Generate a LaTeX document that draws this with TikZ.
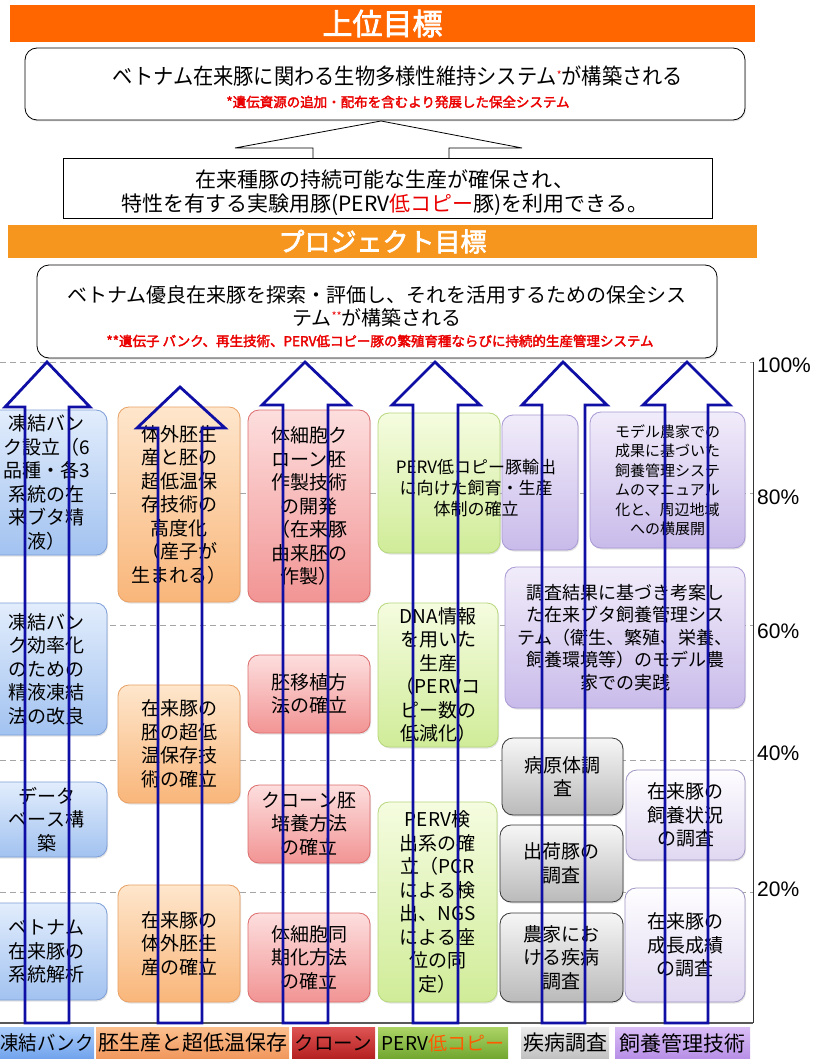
\documentclass[tikz,border=0pt]{standalone}
\usepackage{fontspec}
\newfontfamily\jp{Noto Sans CJK JP}
\newfontfamily\jpb[FakeBold=2.5]{Noto Sans CJK JP}
\newfontfamily\jpc[FakeStretch=0.92]{Noto Sans CJK JP}
\newfontfamily\pctfont{Liberation Sans}
\usetikzlibrary{shadows}

\definecolor{barA}{RGB}{255,102,0}
\definecolor{barB}{RGB}{247,150,30}
\definecolor{redtxt}{RGB}{235,0,0}
\definecolor{arrowblue}{RGB}{15,15,165}
\definecolor{gridc}{RGB}{165,165,165}
\definecolor{blueT}{RGB}{226,237,252}
\definecolor{blueD}{RGB}{162,194,240}
\definecolor{blueB}{RGB}{125,158,215}
\definecolor{oraT}{RGB}{254,230,204}
\definecolor{oraD}{RGB}{249,182,122}
\definecolor{oraB}{RGB}{232,160,100}
\definecolor{redT}{RGB}{253,222,222}
\definecolor{redD}{RGB}{242,148,148}
\definecolor{redB}{RGB}{220,108,108}
\definecolor{grnT}{RGB}{245,252,224}
\definecolor{grnD}{RGB}{208,236,152}
\definecolor{grnB}{RGB}{182,215,124}
\definecolor{gryT}{RGB}{246,246,246}
\definecolor{gryD}{RGB}{186,186,186}
\definecolor{gryB}{RGB}{55,55,55}
\definecolor{purT}{RGB}{241,236,250}
\definecolor{purD}{RGB}{201,187,234}
\definecolor{purB}{RGB}{168,152,212}
\definecolor{lavT}{RGB}{254,253,255}
\definecolor{lavD}{RGB}{224,216,241}
\definecolor{lavB}{RGB}{160,150,195}
\definecolor{lgBlueT}{RGB}{172,206,250}
\definecolor{lgBlueD}{RGB}{112,162,236}
\definecolor{lgOraT}{RGB}{252,192,142}
\definecolor{lgOraD}{RGB}{240,150,92}
\definecolor{lgRedT}{RGB}{222,84,84}
\definecolor{lgRedD}{RGB}{180,32,32}
\definecolor{lgGrnT}{RGB}{172,212,102}
\definecolor{lgGrnD}{RGB}{112,166,46}
\definecolor{lgGryT}{RGB}{236,236,236}
\definecolor{lgGryD}{RGB}{192,192,192}
\definecolor{lgPurT}{RGB}{218,190,246}
\definecolor{lgPurD}{RGB}{182,142,230}
\definecolor{lgOrangeTxt}{RGB}{255,90,0}

\newcommand{\mkbox}[7]{\node[#2, minimum width={(#5)-(#3)}, minimum height={(#6)-(#4)}] (#1) at ({((#3)+(#5))/2},{((#4)+(#6))/2}) {#7};}
\newcommand{\uparr}[7]{\draw[barrow] (#1,1023) -- (#1,#7) -- (#3,#7) -- (#5,#6) -- (#4,#7) -- (#2,#7) -- (#2,1023) -- cycle;}

\begin{document}
\begin{tikzpicture}[x=1pt,y=-1pt,
  cbox/.style={draw, rounded corners=11pt, inner sep=0pt, outer sep=0pt, align=center, line width=0.8pt,
    font={\jp\fontsize{19}{23.5}\selectfont},
    drop shadow={opacity=0.22,shadow xshift=1pt,shadow yshift=-1.5pt}},
  bbox/.style={cbox, draw=blueB, top color=blueT, bottom color=blueD},
  obox/.style={cbox, draw=oraB, top color=oraT, bottom color=oraD},
  rbox/.style={cbox, draw=redB, top color=redT, bottom color=redD},
  gbox/.style={cbox, draw=grnB, top color=grnT, bottom color=grnD},
  ybox/.style={cbox, draw=gryB, top color=gryT, bottom color=gryD},
  pbox/.style={cbox, draw=purB, top color=purT, bottom color=purD},
  lbox/.style={cbox, draw=lavB, top color=lavT, bottom color=lavD},
  lgbox/.style={inner sep=0pt, outer sep=0pt, font={\jp\fontsize{21}{22}\selectfont}},
  topbox/.style={draw=black, line width=0.8pt, inner sep=0pt, outer sep=0pt, fill=white},
  bartxt/.style={inner sep=0pt, outer sep=0pt, text=white, font={\jpb\fontsize{30}{30}\selectfont}},
  gridline/.style={draw=gridc, line width=0.8pt, dash pattern=on 6pt off 4pt},
  barrow/.style={draw=arrowblue, line width=2.8pt, line join=miter},
  pct/.style={anchor=west, inner sep=0pt, font={\pctfont\fontsize{21}{21}\selectfont}}
]
\useasboundingbox (0,0) rectangle (818,1059);
\fill[white] (0,0) rectangle (818,1059);

% ---------- top part ----------
\node[bartxt, fill=barA, minimum width=745, minimum height=37] (bar1) at (382.5,23.5) {上位目標};
\node[topbox, rounded corners=12pt, minimum width=720, minimum height=72,
  drop shadow={opacity=0.2,shadow xshift=1pt,shadow yshift=-1.5pt}] (box1) at (385,84) {};
\node[inner sep=0pt, font={\jpc\fontsize{22}{22}\selectfont}] (t1a) at (398,76)
  {ベトナム在来豚に関わる生物多様性維持システム\textcolor{redtxt}{\raisebox{5pt}{\fontsize{11}{11}\selectfont *}}が構築される};
\node[inner sep=0pt, text=redtxt, font={\jpb\fontsize{13.5}{13.5}\selectfont}] (t1b) at (398,102)
  {*遺伝資源の追加・配布を含むより発展した保全システム};

\node[topbox, minimum width=649, minimum height=60] (box2) at (387.5,188) {};
\node[inner sep=0pt, align=center, font={\jp\fontsize{21}{24}\selectfont}] (t2) at (385,193)
  {在来種豚の持続可能な生産が確保され、\\特性を有する実験用豚(PERV\textcolor{redtxt}{低コピー}豚)を利用できる。};
\fill[white] (313,157.5) -- (313,148) -- (235,148) -- (381,121) -- (522,148) -- (449,148) -- (449,157.5) -- cycle;
\draw[line width=0.8pt] (313,158) -- (313,148) -- (235,148) -- (381,121) -- (522,148) -- (449,148) -- (449,158);

\node[bartxt, fill=barB, minimum width=749, minimum height=33, font={\jpb\fontsize{26}{26}\selectfont}] (bar2) at (382.5,241.5) {プロジェクト目標};
\node[topbox, rounded corners=12pt, minimum width=680, minimum height=93,
  drop shadow={opacity=0.2,shadow xshift=1pt,shadow yshift=-1.5pt}] (box3) at (377,311.5) {};
\node[inner sep=0pt, align=center, font={\jp\fontsize{20}{23}\selectfont}] (t3a) at (377,306)
  {ベトナム優良在来豚を探索・評価し、それを活用するための保全シス\\テム\textcolor{redtxt}{\raisebox{5pt}{\fontsize{11}{11}\selectfont **}}が構築される};
\node[inner sep=0pt, text=redtxt, font={\jpb\fontsize{13.5}{13.5}\selectfont}] (t3b) at (380,341)
  {**遺伝子 バンク、再生技術、PERV低コピー豚の繁殖育種ならびに持続的生産管理システム};

% ---------- grid ----------
\foreach \yy in {362,493,625,760,892} {\draw[gridline] (0,\yy) -- (753,\yy);}

% ---------- column 1 ----------
\mkbox{c1a}{bbox}{-14}{410}{107}{555}{凍結バン\\ク設立（6\\品種・各3\\系統の在\\来ブタ精\\液）}
\mkbox{c1b}{bbox}{-14}{603}{107}{735}{凍結バン\\ク効率化\\のための\\精液凍結\\法の改良}
\mkbox{c1c}{bbox}{-14}{782}{107}{857}{データ\\ベース構\\築}
\mkbox{c1d}{bbox}{-14}{903}{107}{1000}{ベトナム\\在来豚の\\系統解析}
% ---------- column 2 ----------
\mkbox{c2a}{obox}{118}{407}{240}{602}{体外胚生\\産と胚の\\超低温保\\存技術の\\高度化\\（産子が\\生まれる）}
\mkbox{c2b}{obox}{118}{685}{240}{803}{在来豚の\\胚の超低\\温保存技\\術の確立}
\mkbox{c2c}{obox}{118}{885}{240}{1002}{在来豚の\\体外胚生\\産の確立}
% ---------- column 3 ----------
\mkbox{c3a}{rbox}{248}{410}{370}{602}{体細胞ク\\ローン胚\\作製技術\\の開発\\（在来豚\\由来胚の\\作製）}
\mkbox{c3b}{rbox}{248}{655}{370}{733}{胚移植方\\法の確立}
\mkbox{c3c}{rbox}{248}{785}{370}{863}{クローン胚\\培養方法\\の確立}
\mkbox{c3d}{rbox}{248}{913}{370}{1002}{体細胞同\\期化方法\\の確立}
% ---------- column 4 ----------
\mkbox{c4a}{gbox}{378}{413}{500}{553}{}
\mkbox{c4b}{gbox}{378}{603}{498}{747}{DNA情報\\を用いた\\生産\\（PERVコ\\ピー数の\\低減化）}
\mkbox{c4c}{gbox}{378}{802}{497}{1002}{PERV検\\出系の確\\立（PCR\\による検\\出、NGS\\による座\\位の同\\定）}
% ---------- column 5/6 ----------
\mkbox{c5a}{pbox}{502}{415}{578}{550}{}
\node[inner sep=0pt, align=center, font={\jp\fontsize{17}{21}\selectfont}] (c4t) at (476,488)
  {PERV低コピー豚輸出\\に向けた飼育・生産\\体制の確立};
\mkbox{c6a}{pbox, font={\jp\fontsize{15}{19.5}\selectfont}}{590}{412}{745}{548}{モデル農家での\\成果に基づいた\\飼養管理システ\\ムのマニュアル\\化と、周辺地域\\への横展開}
\mkbox{c6b}{pbox, font={\jp\fontsize{18}{22.5}\selectfont}}{505}{567}{745}{708}{調査結果に基づき考案し\\た在来ブタ飼養管理シス\\テム（衛生、繁殖、栄養、\\飼養環境等）のモデル農\\家での実践}
\mkbox{c5b}{ybox}{502}{738}{623}{815}{病原体調\\査}
\mkbox{c6c}{lbox}{626}{770}{745}{860}{在来豚の\\飼養状況\\の調査}
\mkbox{c5c}{ybox}{500}{825}{623}{902}{出荷豚の\\調査}
\mkbox{c5d}{ybox}{500}{913}{623}{1002}{農家にお\\ける疾病\\調査}
\mkbox{c6d}{lbox}{625}{888}{745}{1002}{在来豚の\\成長成績\\の調査}

% ---------- axes ----------
\draw[line width=0.9pt, black!80] (753,362) -- (753,1023);
\draw[line width=1.6pt, black!65] (0,1023) -- (753,1023);
\node[pct] (p100) at (757,365) {100\%};
\node[pct] (p80) at (757,497) {80\%};
\node[pct] (p60) at (757,631) {60\%};
\node[pct] (p40) at (757,753) {40\%};
\node[pct] (p20) at (757,889) {20\%};

% ---------- blue arrows ----------
\uparr{25}{69}{5}{90}{47}{362}{407}
\uparr{158}{202}{137}{225}{180}{387}{428}
\uparr{283}{328}{262}{350}{305}{362}{405}
\uparr{413}{458}{392}{480}{435}{362}{405}
\uparr{542}{585}{522}{607}{563}{362}{405}
\uparr{665}{708}{643}{730}{687}{362}{405}

% ---------- legend ----------
\mkbox{lg1}{lgbox, font={\jpc\fontsize{20}{22}\selectfont}, top color=lgBlueT, bottom color=lgBlueD}{0}{1027}{94}{1059}{凍結バンク}
\mkbox{lg2}{lgbox, top color=lgOraT, bottom color=lgOraD}{96}{1027}{289}{1059}{胚生産と超低温保存}
\mkbox{lg3}{lgbox, font={\jp\fontsize{19.5}{22}\selectfont}, top color=lgRedT, bottom color=lgRedD}{292}{1027}{375}{1059}{クローン}
\mkbox{lg4}{lgbox, font={\jp\fontsize{19}{22}\selectfont}, top color=lgGrnT, bottom color=lgGrnD}{378}{1027}{508}{1059}{PERV\textcolor{lgOrangeTxt}{低コピー}}
\mkbox{lg5}{lgbox, top color=lgGryT, bottom color=lgGryD}{521}{1027}{609}{1059}{疾病調査}
\mkbox{lg6}{lgbox, top color=lgPurT, bottom color=lgPurD}{615}{1027}{750}{1059}{飼養管理技術}
\end{tikzpicture}
\end{document}
